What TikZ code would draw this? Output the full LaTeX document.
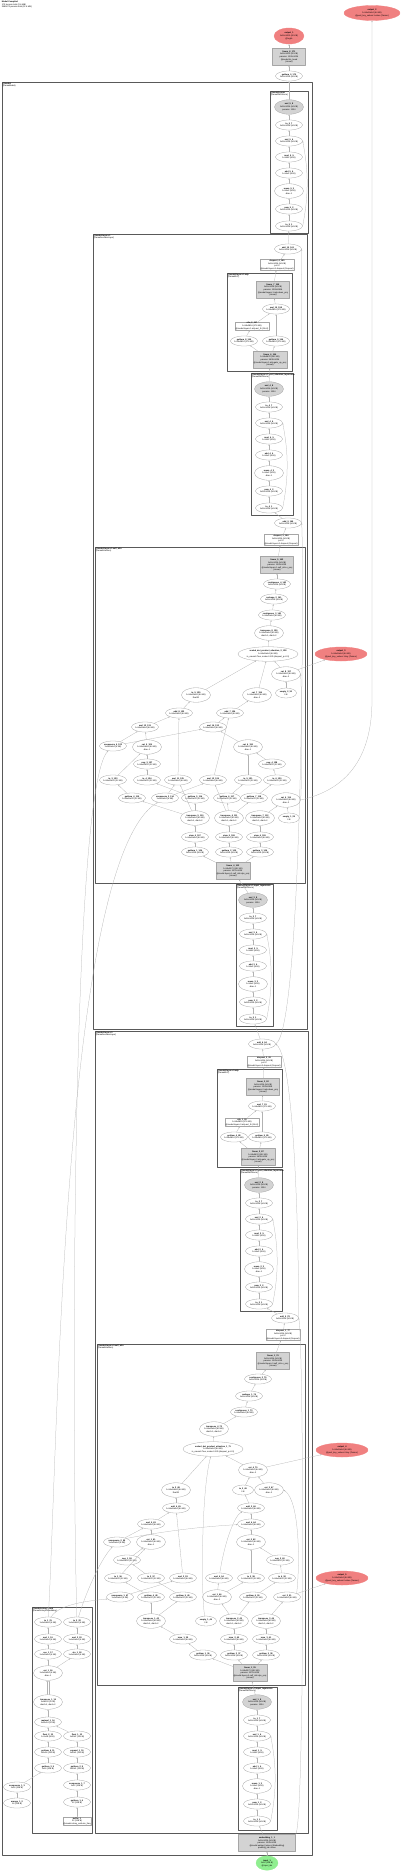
\documentclass[tikz,border=0pt]{standalone}
\usepackage{fontspec}
\setmainfont{Liberation Sans}
\usetikzlibrary{shapes.geometric, arrows.meta, positioning, calc}

\definecolor{outred}{HTML}{F08080}
\definecolor{ingreen}{HTML}{90EE90}
\definecolor{prmgray}{HTML}{D3D3D3}
\newcommand{\tfont}{\fontsize{2.1pt}{2.55pt}\selectfont}
\newcommand{\lb}[2]{\textbf{#1}\\#2}
\newcommand{\shH}{1x16x1024 (64 KB)}
\newcommand{\shQ}{1x16x16x64 (64 KB)}
\newcommand{\shR}{1x16x16x32 (32 KB)}
\newcommand{\shC}{1x1x16x64 (4 KB)}
\newcommand{\shM}{1x16x2816 (176 KB)}

\tikzset{
  fn/.style={ellipse, draw=gray!70, line width=0.3pt, fill=white, inner sep=0pt,
    minimum width=27pt, minimum height=10pt, align=center, font=\tfont},
  fnt/.style={fn, minimum width=29pt, minimum height=14.5pt},
  fns/.style={fn, minimum width=21pt},
  fnp/.style={fnt, fill=prmgray},
  prm/.style={rectangle, draw=gray!70, line width=0.3pt, fill=prmgray, inner sep=0.7pt,
    minimum width=33pt, minimum height=17pt, align=center, font=\tfont},
  modbox/.style={prm, fill=white, minimum width=0pt, minimum height=0pt},
  outn/.style={fnt, fill=outred, draw=outred},
  inn/.style={fnt, fill=ingreen, draw=ingreen, minimum width=22pt},
  clus/.style={draw=black!65, line width=0.55pt},
  clab/.style={anchor=north west, inner sep=0.6pt, align=left, font=\tfont},
  edge/.style={draw=gray!60, line width=0.25pt, -{Stealth[length=1.6pt, width=1.3pt]}}
}

% one RMSNorm block: prefix, x, y of weight node, index
\newcommand{\rmsnorm}[4]{%
  \node[fnp] (#1w) at (#2,#3) {\lb{mul\_#4\_8}{\shH}\\params: 1024};
  \node[fn] (#1t2) at (#2,#3+18) {\lb{to\_#4\_7}{\shH}};
  \node[fn] (#1m) at (#2,#3+34) {\lb{mul\_#4\_6}{\shH}};
  \node[fn] (#1r) at (#2,#3+50) {\lb{rsqrt\_#4\_5}{1x16x1 (64 B)}};
  \node[fn] (#1a) at (#2,#3+66) {\lb{add\_#4\_4}{1x16x1 (64 B)}};
  \node[fnt] (#1mn) at (#2,#3+84) {\lb{mean\_#4\_3}{1x16x1 (64 B)}\\dim=-1};
  \node[fn] (#1p) at (#2,#3+102) {\lb{pow\_#4\_2}{\shH}};
  \node[fn] (#1t1) at (#2,#3+119) {\lb{to\_#4\_1}{\shH}};
  \draw[edge] (#1t1) -- (#1p);
  \draw[edge] (#1p) -- (#1mn);
  \draw[edge] (#1mn) -- (#1a);
  \draw[edge] (#1a) -- (#1r);
  \draw[edge] (#1r) -- (#1m);
  \draw[edge] (#1m) -- (#1t2);
  \draw[edge] (#1t2) -- (#1w);
  \draw[edge] (#1t1.east) .. controls +(6,-30) and +(6,30) .. (#1m.east);
}

\begin{document}
\begin{tikzpicture}[x=1pt, y=-1pt, line join=round, line cap=round]
\useasboundingbox (0,0) rectangle (400,1873);

\node[clab] (title) at (1,0.5) {\textbf{Model Compiled}\\173 tensors total (2.6 MB)\\2985472 params total (11.4 MB)};

% outputs and head
\node[outn, minimum width=56pt, minimum height=15pt] (out2) at (372,13) {\lb{output\_2}{\shQ}\\@past\_key\_values.1.value (Tensor)};
\node[outn, minimum width=30pt, minimum height=16pt] (out1) at (289,36) {\lb{output\_1}{1x16x1000 (62 KB)}\\@logits};
\node[prm] (lmh) at (289,57) {\lb{linear\_8\_171}{1x16x1000 (62 KB)}\\params: 1000x1024\\@model.lm\_head\\(Linear)};
\node[fn] (gl) at (289,76) {\lb{getitem\_9\_170}{\shH}};

% model cluster
\draw[clus, line width=0.85pt] (2,82) rectangle (312,1855);
\node[clab] (cM) at (2,82) {\textbf{@model}\\(LlamaModel)};

% final norm
\draw[clus] (270,91) rectangle (308,233);
\node[clab] (cN) at (270,91) {\textbf{@model.norm}\\(LlamaRMSNorm)};
\rmsnorm{nF}{289}{107}{5}

% ---------------- layer 1
\draw[clus] (93,234) rectangle (307,1029);
\node[clab] (cA) at (93,234) {\textbf{@model.layers.1}\\(LlamaDecoderLayer)};
\node[fn] (Aadd2) at (288,249) {\lb{add\_10\_161}{\shH}};
\node[modbox] (Adrop2) at (277,265) {\lb{dropout\_4\_160}{\shH}\\p=0.0\\@model.layers.1.dropout (Dropout)};

\draw[clus] (227,273) rectangle (292,371);
\node[clab] (cAm) at (227,273) {\textbf{@model.layers.1.mlp}\\(LlamaMLP)};
\node[prm] (Adown) at (273,290) {\lb{linear\_7\_159}{\shH}\\params: 1024x2816\\@model.layers.1.mlp.down\_proj\\(Linear)};
\node[fn] (Amul) at (276,309) {\lb{mul\_15\_158}{\shM}};
\node[modbox] (Aact) at (252,326) {\lb{silu\_2\_157}{\shM}\\@model.layers.1.mlp.act\_fn (SiLU)};
\node[fn] (Ag1) at (244,341) {\lb{getitem\_8\_155}{\shM}};
\node[fn] (Ag2) at (276,341) {\lb{getitem\_9\_156}{\shM}};
\node[prm] (Agu) at (270,360) {\lb{linear\_6\_154}{1x16x5632 (352 KB)}\\params: 5632x1024\\@model.layers.1.mlp.gate\_up\_proj\\(Linear)};

\draw[clus] (251,373) rectangle (293,515);
\node[clab] (cAp) at (251,373) {\textbf{@model.layers.1.post\_attention\_layernorm}\\(LlamaRMSNorm)};
\rmsnorm{pA}{269}{389}{4}

\node[fn] (Aadd1) at (288,523) {\lb{add\_9\_145}{\shH}};
\node[modbox] (Adrop1) at (281,540) {\lb{dropout\_3\_144}{\shH}\\p=0.0\\@model.layers.1.dropout (Dropout)};

\draw[clus] (95,547) rectangle (305,883);
\node[clab] (cAa) at (95,547) {\textbf{@model.layers.1.self\_attn}\\(LlamaAttention)};
\node[prm] (Aop) at (277,565) {\lb{linear\_5\_143}{\shH}\\params: 1024x1024\\@model.layers.1.self\_attn.o\_proj\\(Linear)};
\node[fn] (Act2) at (277,584) {\lb{contiguous\_4\_142}{\shH}};
\node[fn] (Ars) at (274,599) {\lb{reshape\_2\_141}{\shH}};
\node[fn] (Act1) at (272,615) {\lb{contiguous\_3\_140}{\shQ}};
\node[fnt] (Atr) at (269,633) {\lb{transpose\_8\_139}{\shQ}\\dim0=1, dim1=2};
\node[fnt, minimum width=58pt] (Asd) at (268,654) {\lb{scaled\_dot\_product\_attention\_2\_138}{\shQ}\\is\_causal=True, scale=0.125 (dropout\_p=0.0)};
\node[outn, minimum width=52pt, minimum height=14pt] (oA) at (341,654) {\lb{output\_3}{\shQ}\\@past\_key\_values.1.key (Tensor)};
\node[fnt] (Ack) at (286,674) {\lb{cat\_8\_137}{\shQ}\\dim=-2};
\node[fns] (Aek) at (286,693) {\lb{empty\_2\_30}{0 B}};
\node[fnt] (Arq) at (196,695) {\lb{to\_5\_135}{\shQ}\\float32};
\node[fnt] (Arv) at (257,695) {\lb{cat\_7\_136}{\shQ}\\dim=-2};
\node[fn] (Aaq) at (179,713) {\lb{add\_8\_133}{\shQ}};
\node[fn] (Aak) at (230,713) {\lb{add\_7\_134}{\shQ}};
\node[fn] (Amq) at (145,727) {\lb{mul\_13\_131}{\shQ}};
\node[fn] (Amk) at (213,727) {\lb{mul\_14\_132}{\shQ}};
\node[fn] (Aus) at (113,746) {\lb{unsqueeze\_4\_122}{\shC}};
\node[fnt] (Acq) at (147,747) {\lb{cat\_5\_129}{\shQ}\\dim=-1};
\node[fnt] (Acc) at (248,747) {\lb{cat\_6\_130}{\shQ}\\dim=-1};
\node[fn] (Anq) at (147,764) {\lb{neg\_3\_127}{\shR}};
\node[fn] (Ank) at (272,764) {\lb{neg\_4\_128}{\shR}};
\node[fn] (Ab1) at (113,780) {\lb{to\_3\_123}{\shR}};
\node[fn] (Ab2) at (147,780) {\lb{to\_4\_124}{\shR}};
\node[fn] (Ab3) at (178,780) {\lb{mul\_11\_125}{\shQ}};
\node[fn] (Ab4) at (213,780) {\lb{mul\_12\_126}{\shQ}};
\node[fn] (Ab5) at (248,780) {\lb{to\_5\_121}{\shR}};
\node[fn] (Ab6) at (277,780) {\lb{to\_6\_120}{\shR}};
\node[fn] (Aa1) at (132,798) {\lb{getitem\_4\_115}{\shR}};
\node[fn] (Aa2) at (165,798) {\lb{unsqueeze\_3\_114}{\shC}};
\node[fn] (Aa3) at (195,798) {\lb{getitem\_5\_116}{\shR}};
\node[fn] (Aa4) at (227,798) {\lb{getitem\_6\_117}{\shR}};
\node[fn] (Aa5) at (254,798) {\lb{getitem\_7\_118}{\shR}};
\node[fnt] (Acv) at (286,800) {\lb{cat\_4\_119}{\shQ}\\dim=-2};
\node[fnt] (At1) at (195,818) {\lb{transpose\_5\_110}{\shQ}\\dim0=1, dim1=2};
\node[fnt] (At2) at (229,818) {\lb{transpose\_6\_111}{\shQ}\\dim0=1, dim1=2};
\node[fnt] (At3) at (260,818) {\lb{transpose\_7\_112}{\shQ}\\dim0=1, dim1=2};
\node[fns] (Apv) at (289,818) {\lb{empty\_1\_29}{0 B}};
\node[fn] (Av1) at (195,837) {\lb{view\_4\_107}{\shQ}};
\node[fn] (Av2) at (229,837) {\lb{view\_5\_108}{\shQ}};
\node[fn] (Av3) at (260,837) {\lb{view\_6\_109}{\shQ}};
\node[fn] (Agq) at (195,852) {\lb{getitem\_1\_104}{\shH}};
\node[fn] (Agk) at (229,852) {\lb{getitem\_2\_105}{\shH}};
\node[fn] (Agv) at (260,852) {\lb{getitem\_3\_106}{\shH}};
\node[prm] (Aqkv) at (233,871) {\lb{linear\_4\_103}{1x16x3072 (192 KB)}\\params: 3072x1024\\@model.layers.1.self\_attn.qkv\_proj\\(Linear)};

\draw[clus] (236,884) rectangle (273,1026);
\node[clab] (cAi) at (236,884) {\textbf{@model.layers.1.input\_layernorm}\\(LlamaRMSNorm)};
\rmsnorm{iA}{253}{900}{3}

% ---------------- layer 0
\draw[clus] (95,1031) rectangle (308,1833);
\node[clab] (cB) at (95,1031) {\textbf{@model.layers.0}\\(LlamaDecoderLayer)};
\node[fn] (Badd2) at (262,1044) {\lb{add\_6\_94}{\shH}};
\node[modbox] (Bdrop2) at (264,1062) {\lb{dropout\_2\_93}{\shH}\\p=0.0\\@model.layers.0.dropout (Dropout)};

\draw[clus] (217,1069) rectangle (282,1167);
\node[clab] (cBm) at (217,1069) {\textbf{@model.layers.0.mlp}\\(LlamaMLP)};
\node[prm] (Bdown) at (263,1087) {\lb{linear\_3\_92}{\shH}\\params: 1024x2816\\@model.layers.0.mlp.down\_proj\\(Linear)};
\node[fn] (Bmul) at (262,1106) {\lb{mul\_7\_91}{\shM}};
\node[modbox] (Bact) at (242,1122) {\lb{silu\_1\_90}{\shM}\\@model.layers.0.mlp.act\_fn (SiLU)};
\node[fn] (Bg1) at (234,1137) {\lb{getitem\_4\_88}{\shM}};
\node[fn] (Bg2) at (262,1137) {\lb{getitem\_5\_89}{\shM}};
\node[prm] (Bgu) at (258,1157) {\lb{linear\_2\_87}{1x16x5632 (352 KB)}\\params: 5632x1024\\@model.layers.0.mlp.gate\_up\_proj\\(Linear)};

\draw[clus] (240,1169) rectangle (282,1311);
\node[clab] (cBp) at (240,1169) {\textbf{@model.layers.0.post\_attention\_layernorm}\\(LlamaRMSNorm)};
\rmsnorm{pB}{259}{1185}{2}

\node[fn] (Badd1) at (285,1318) {\lb{add\_5\_78}{\shH}};
\node[modbox] (Bdrop1) at (283,1335) {\lb{dropout\_1\_77}{\shH}\\p=0.0\\@model.layers.0.dropout (Dropout)};

\draw[clus] (97,1344) rectangle (305,1685);
\node[clab] (cBa) at (97,1344) {\textbf{@model.layers.0.self\_attn}\\(LlamaAttention)};
\node[prm] (Bop) at (273,1361) {\lb{linear\_1\_76}{\shH}\\params: 1024x1024\\@model.layers.0.self\_attn.o\_proj\\(Linear)};
\node[fn] (Bct2) at (258,1379) {\lb{contiguous\_2\_75}{\shH}};
\node[fn] (Brs) at (249,1396) {\lb{reshape\_1\_74}{\shH}};
\node[fn] (Bct1) at (244,1412) {\lb{contiguous\_1\_73}{\shQ}};
\node[fnt] (Btr) at (214,1429) {\lb{transpose\_4\_72}{\shQ}\\dim0=1, dim1=2};
\node[fnt, minimum width=58pt] (Bsd) at (213,1449) {\lb{scaled\_dot\_product\_attention\_1\_71}{\shQ}\\is\_causal=True, scale=0.125 (dropout\_p=0.0)};
\node[outn, minimum width=52pt, minimum height=14pt] (oB1) at (342,1450) {\lb{output\_4}{\shQ}\\@past\_key\_values.0.key (Tensor)};
\node[fnt] (Bck) at (253,1470) {\lb{cat\_4\_70}{\shQ}\\dim=-2};
\node[fnt] (Brq) at (176,1490) {\lb{to\_2\_68}{\shQ}\\float32};
\node[fns] (Bek) at (243,1490) {\lb{to\_3\_69}{0 B}};
\node[fnt] (Brv) at (269,1490) {\lb{cat\_3\_67}{\shQ}\\dim=-2};
\node[fn] (Baq) at (176,1508) {\lb{add\_4\_65}{\shQ}};
\node[fn] (Bak) at (251,1508) {\lb{add\_3\_66}{\shQ}};
\node[fn] (Bmq) at (151,1524) {\lb{mul\_5\_63}{\shQ}};
\node[fn] (Bmk) at (251,1524) {\lb{mul\_6\_64}{\shQ}};
\node[fn] (Bus) at (117,1542) {\lb{unsqueeze\_2\_55}{\shC}};
\node[fnt] (Bcq) at (151,1542) {\lb{cat\_1\_61}{\shQ}\\dim=-1};
\node[fnt] (Bcc) at (251,1542) {\lb{cat\_2\_62}{\shQ}\\dim=-1};
\node[fn] (Bnq) at (127,1560) {\lb{neg\_1\_59}{\shR}};
\node[fn] (Bnk) at (280,1560) {\lb{neg\_2\_60}{\shR}};
\node[fn] (Bb1) at (118,1578) {\lb{to\_1\_56}{\shR}};
\node[fn] (Bb2) at (151,1578) {\lb{to\_2\_57}{\shR}};
\node[fn] (Bb3) at (183,1578) {\lb{mul\_3\_53}{\shQ}};
\node[fn] (Bb4) at (219,1578) {\lb{mul\_4\_54}{\shQ}};
\node[fn] (Bb5) at (251,1578) {\lb{to\_3\_58}{\shR}};
\node[fn] (Bb6) at (282,1578) {\lb{to\_4\_52}{\shR}};
\node[outn, minimum width=52pt, minimum height=14pt] (oB2) at (342,1578) {\lb{output\_5}{\shQ}\\@past\_key\_values.0.value (Tensor)};
\node[fn] (Ba1) at (120,1597) {\lb{unsqueeze\_1\_47}{\shC}};
\node[fn] (Ba2) at (151,1597) {\lb{getitem\_4\_48}{\shR}};
\node[fn] (Ba3) at (183,1597) {\lb{getitem\_5\_49}{\shR}};
\node[fnt] (Ba4) at (217,1597) {\lb{cat\_1\_46}{\shQ}\\dim=-2};
\node[fn] (Ba5) at (253,1597) {\lb{getitem\_6\_50}{\shR}};
\node[fn] (Bcv) at (287,1597) {\lb{cat\_2\_51}{\shQ}};
\node[fnt] (Bt1) at (151,1621) {\lb{transpose\_1\_42}{\shQ}\\dim0=1, dim1=2};
\node[fns] (Bpv) at (206,1621) {\lb{empty\_1\_45}{0 B}};
\node[fnt] (Bt2) at (234,1621) {\lb{transpose\_2\_43}{\shQ}\\dim0=1, dim1=2};
\node[fnt] (Bt3) at (266,1621) {\lb{transpose\_3\_44}{\shQ}\\dim0=1, dim1=2};
\node[fn] (Bv1) at (183,1639) {\lb{view\_1\_39}{\shQ}};
\node[fn] (Bv2) at (234,1639) {\lb{view\_2\_40}{\shQ}};
\node[fn] (Bv3) at (266,1639) {\lb{view\_3\_41}{\shQ}};
\node[fn] (Bgq) at (203,1655) {\lb{getitem\_1\_36}{\shH}};
\node[fn] (Bgk) at (234,1655) {\lb{getitem\_2\_37}{\shH}};
\node[fn] (Bgv) at (266,1655) {\lb{getitem\_3\_38}{\shH}};
\node[prm] (Bqkv) at (250,1673) {\lb{linear\_1\_35}{1x16x3072 (192 KB)}\\params: 3072x1024\\@model.layers.0.self\_attn.qkv\_proj\\(Linear)};

\draw[clus] (238,1687) rectangle (277,1830);
\node[clab] (cBi) at (238,1687) {\textbf{@model.layers.0.input\_layernorm}\\(LlamaRMSNorm)};
\rmsnorm{iB}{257}{1702}{1}

% ---------------- rotary embedding
\draw[clus] (32,1607) rectangle (92,1833);
\node[clab] (cR) at (32,1607) {\textbf{@model.rotary\_emb}\\(LlamaRotaryEmbedding)};
\node[fn] (Rc2) at (48,1622) {\lb{to\_1\_21}{\shC}};
\node[fn] (Rs2) at (77,1622) {\lb{to\_2\_22}{\shC}};
\node[fn] (Rcm) at (48,1639) {\lb{mul\_1\_19}{\shC}};
\node[fn] (Rsm) at (77,1639) {\lb{mul\_2\_20}{\shC}};
\node[fn] (Rcos) at (48,1654) {\lb{cos\_1\_17}{\shC}};
\node[fn] (Rsin) at (77,1654) {\lb{sin\_1\_18}{\shC}};
\node[fnt] (Rcat) at (48,1673) {\lb{cat\_1\_16}{\shC}\\dim=-1};
\node[fnt] (Rtr) at (48,1702) {\lb{transpose\_1\_15}{1x16x32 (2 KB)}\\dim0=1, dim1=2};
\node[fn] (Rmm) at (48,1722) {\lb{matmul\_1\_14}{1x32x16 (2 KB)}};
\node[fn] (Rf1) at (48,1736) {\lb{float\_2\_13}{1x1x16 (64 B)}};
\node[fn] (Rf2) at (77,1736) {\lb{float\_1\_12}{1x32x1 (128 B)}};
\node[fn] (Re1) at (48,1752) {\lb{getitem\_4\_11}{1x1x16 (128 B)}};
\node[fn] (Re2) at (77,1752) {\lb{expand\_1\_10}{1x32x1 (128 B)}};
\node[fn] (Rg1) at (48,1768) {\lb{getitem\_3\_9}{1x16 (128 B)}};
\node[fn] (Rg2) at (77,1768) {\lb{getitem\_2\_8}{1x32x1 (128 B)}};
\node[fn] (Ru2) at (77,1785) {\lb{unsqueeze\_1\_7}{1x32 (128 B)}};
\node[fn] (Rg3) at (77,1802) {\lb{getitem\_1\_6}{32 (128 B)}};
\node[modbox] (Rbuf) at (77,1821) {\lb{buffer\_1}{32 (128 B)}\\@model.rotary\_emb.inv\_freq};
\node[fn] (Pus) at (17,1787) {\lb{unsqueeze\_1\_3}{1x16 (128 B)}};
\node[fn] (Par) at (17,1803) {\lb{arange\_1\_2}{16 (128 B)}};

% embedding and input
\node[prm, minimum width=57pt] (emb) at (267,1843) {\lb{embedding\_1\_1}{\shH}\\params: 1000x1024\\@model.embed\_tokens (Embedding)\\padding\_idx=None};
\node[inn] (inp) at (267,1863) {\lb{input\_1}{1x16 (128 B)}\\@input\_ids};

% ---------------- edges
\draw[edge] (inp) -- (emb);
\draw[edge] (emb) -- (iBt1);
\draw[edge] (emb.north east) .. controls (305,1825) and (304,1345) .. (Badd1.east);
\draw[edge] (gl) -- (lmh);
\draw[edge] (lmh) -- (out1);
\draw[edge] (nFw) -- (gl);
\draw[edge] (Aadd2) -- (nFt1);

% layer 1 residuals and mlp
\draw[edge] (Adrop2) -- (Aadd2);
\draw[edge] (Aadd1.east) .. controls (301,500) and (301,272) .. (Aadd2.east);
\draw[edge] (Adown) -- (Adrop2);
\draw[edge] (Amul) -- (Adown);
\draw[edge] (Aact) -- (Amul);
\draw[edge] (Ag2) -- (Amul);
\draw[edge] (Ag1) -- (Aact);
\draw[edge] (Agu) -- (Ag1);
\draw[edge] (Agu) -- (Ag2);
\draw[edge] (pAw) -- (Agu);
\draw[edge] (Aadd1) -- (pAt1);
\draw[edge] (Adrop1) -- (Aadd1);
\draw[edge] (Aop) -- (Adrop1);
\draw[edge] (Act2) -- (Aop);
\draw[edge] (Ars) -- (Act2);
\draw[edge] (Act1) -- (Ars);
\draw[edge] (Atr) -- (Act1);
\draw[edge] (Asd) -- (Atr);
\draw[edge] (Ack) -- (Asd);
\draw[edge] (Ack) -- (oA);
\draw[edge] (Aek) -- (Ack);
\draw[edge] (Arq) -- (Asd);
\draw[edge] (Arv) -- (Asd);
\draw[edge] (Aaq) -- (Arq);
\draw[edge] (Aak) -- (Arv);
\draw[edge] (Acv.east) .. controls (302,780) and (302,700) .. (Ack.east);
\draw[edge] (Acv.east) .. controls (345,790) and (372,760) .. (372,700) -- (out2);
\draw[edge] (Amq) -- (Aaq);
\draw[edge] (Ab3) -- (Aaq);
\draw[edge] (Amk) -- (Aak);
\draw[edge] (Ab4) -- (Aak);
\draw[edge] (Acq) -- (Amq);
\draw[edge] (Aus) -- (Amq);
\draw[edge] (Acc) -- (Amk);
\draw[edge] (Aus) -- (Amk);
\draw[edge] (Anq) -- (Acq);
\draw[edge] (Ab1) -- (Acq);
\draw[edge] (Ank) -- (Acc);
\draw[edge] (Ab5) -- (Acc);
\draw[edge] (Ab2) -- (Anq);
\draw[edge] (Ab6) -- (Ank);
\draw[edge] (Aa1) -- (Ab1);
\draw[edge] (Aa3) -- (Ab2);
\draw[edge] (At1) -- (Ab3);
\draw[edge] (Aa2) -- (Ab3);
\draw[edge] (At2) -- (Ab4);
\draw[edge] (Aa2) -- (Ab4);
\draw[edge] (Aa4) -- (Ab5);
\draw[edge] (Aa5) -- (Ab6);
\draw[edge] (At1) -- (Aa1);
\draw[edge] (At1) -- (Aa3);
\draw[edge] (At2) -- (Aa4);
\draw[edge] (At2) -- (Aa5);
\draw[edge] (At3) -- (Acv);
\draw[edge] (Apv) -- (Acv);
\draw[edge] (Av1) -- (At1);
\draw[edge] (Av2) -- (At2);
\draw[edge] (Av3) -- (At3);
\draw[edge] (Agq) -- (Av1);
\draw[edge] (Agk) -- (Av2);
\draw[edge] (Agv) -- (Av3);
\draw[edge] (Aqkv) -- (Agq);
\draw[edge] (Aqkv) -- (Agk);
\draw[edge] (Aqkv) -- (Agv);
\draw[edge] (iAw) -- (Aqkv);

% layer 0
\draw[edge] (Badd2) -- (iAt1);
\draw[edge] (Badd2.east) .. controls (303,1030) and (304,560) .. (Aadd1.east);
\draw[edge] (Bdrop2) -- (Badd2);
\draw[edge] (Badd1.east) .. controls (299,1290) and (297,1060) .. (Badd2.east);
\draw[edge] (Bdown) -- (Bdrop2);
\draw[edge] (Bmul) -- (Bdown);
\draw[edge] (Bact) -- (Bmul);
\draw[edge] (Bg2) -- (Bmul);
\draw[edge] (Bg1) -- (Bact);
\draw[edge] (Bgu) -- (Bg1);
\draw[edge] (Bgu) -- (Bg2);
\draw[edge] (pBw) -- (Bgu);
\draw[edge] (Badd1) -- (pBt1);
\draw[edge] (Bdrop1) -- (Badd1);
\draw[edge] (Bop) -- (Bdrop1);
\draw[edge] (Bct2) -- (Bop);
\draw[edge] (Brs) -- (Bct2);
\draw[edge] (Bct1) -- (Brs);
\draw[edge] (Btr) -- (Bct1);
\draw[edge] (Bsd) -- (Btr);
\draw[edge] (Bck) -- (Bsd);
\draw[edge] (Bck) -- (oB1);
\draw[edge] (Brq) -- (Bsd);
\draw[edge] (Bek) -- (Bck);
\draw[edge] (Brv) -- (Bck);
\draw[edge] (Bpv) .. controls (201,1600) and (201,1490) .. (Bsd);
\draw[edge] (Bcv.north east) .. controls (300,1565) and (300,1500) .. (Brv.east);
\draw[edge] (Bcv) -- (oB2);
\draw[edge] (Baq) -- (Brq);
\draw[edge] (Bak) -- (Bek);
\draw[edge] (Bmq) -- (Baq);
\draw[edge] (Bb3) -- (Baq);
\draw[edge] (Bmk) -- (Bak);
\draw[edge] (Bb4) .. controls (225,1540) and (235,1515) .. (Bak);
\draw[edge] (Bcq) -- (Bmq);
\draw[edge] (Bus) -- (Bmq);
\draw[edge] (Bcc) -- (Bmk);
\draw[edge] (Bus.north east) .. controls (170,1530) and (210,1526) .. (Bmk);
\draw[edge] (Bnq) -- (Bcq);
\draw[edge] (Bb1) -- (Bcq);
\draw[edge] (Bnk) -- (Bcc);
\draw[edge] (Bb5) -- (Bcc);
\draw[edge] (Bb2) -- (Bnq);
\draw[edge] (Bb6) -- (Bnk);
\draw[edge] (Ba2) -- (Bb1);
\draw[edge] (Ba3) -- (Bb2);
\draw[edge] (Ba1) -- (Bb3);
\draw[edge] (Ba4) -- (Bb4);
\draw[edge] (Ba4) -- (Bb5);
\draw[edge] (Ba5) -- (Bb6);
\draw[edge] (Bt1) -- (Ba2);
\draw[edge] (Bt1) -- (Ba3);
\draw[edge] (Bt2) -- (Ba4);
\draw[edge] (Bt2) -- (Ba5);
\draw[edge] (Bt3) -- (Bcv);
\draw[edge] (Bv1) -- (Bt1);
\draw[edge] (Bv2) -- (Bt2);
\draw[edge] (Bv3) -- (Bt3);
\draw[edge] (Bgq) -- (Bv1);
\draw[edge] (Bgk) -- (Bv2);
\draw[edge] (Bgv) -- (Bv3);
\draw[edge] (Bqkv) -- (Bgq);
\draw[edge] (Bqkv) -- (Bgk);
\draw[edge] (Bqkv) -- (Bgv);
\draw[edge] (iBw) -- (Bqkv);

% rotary
\draw[edge] (Rc2) .. controls (58,1450) and (62,860) .. (Aa2);
\draw[edge] (Rs2) .. controls (72,1450) and (70,790) .. (Aus);
\draw[edge] (Rc2) .. controls (60,1602) and (100,1600) .. (Ba1);
\draw[edge] (Rs2) .. controls (85,1595) and (100,1560) .. (Bus);
\draw[edge] (Rcm) -- (Rc2);
\draw[edge] (Rsm) -- (Rs2);
\draw[edge] (Rcos) -- (Rcm);
\draw[edge] (Rsin) -- (Rsm);
\draw[edge] (Rcat) -- (Rcos);
\draw[edge] (Rcat) -- (Rsin);
\draw[edge] ([xshift=-1pt]Rtr.north) -- ([xshift=-1pt]Rcat.south);
\draw[edge] ([xshift=1pt]Rtr.north) -- ([xshift=1pt]Rcat.south);
\draw[edge] (Rmm) -- (Rtr);
\draw[edge] (Rf1) -- (Rmm);
\draw[edge] (Rf2) -- (Rmm);
\draw[edge] (Re1) -- (Rf1);
\draw[edge] (Re2) -- (Rf2);
\draw[edge] (Rg1) -- (Re1);
\draw[edge] (Rg2) -- (Re2);
\draw[edge] (Ru2) -- (Rg2);
\draw[edge] (Rg3) -- (Ru2);
\draw[edge] (Rbuf) -- (Rg3);
\draw[edge] (Par) -- (Pus);
\draw[edge] (Pus) -- (Rg1);
\end{tikzpicture}
\end{document}
